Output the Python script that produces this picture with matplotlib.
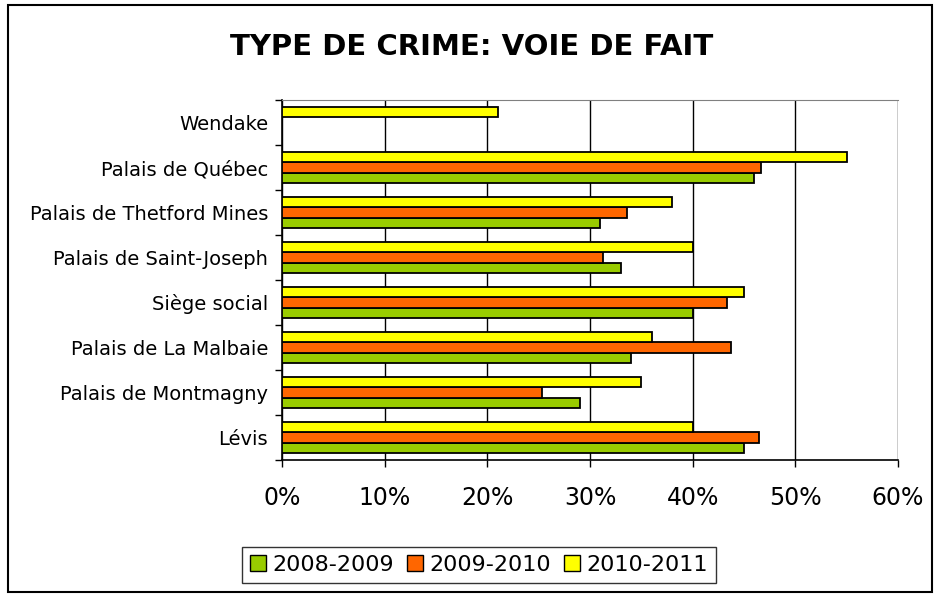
import matplotlib.pyplot as plt
import numpy as np
from matplotlib.patches import Rectangle, Patch
from matplotlib.ticker import FixedLocator, PercentFormatter

# Donnees, de bas en haut
categories = ["Lévis", "Palais de Montmagny", "Palais de La Malbaie", "Siège social",
              "Palais de Saint-Joseph", "Palais de Thetford Mines", "Palais de Québec", "Wendake"]
y2008 = [45, 29, 34, 40, 33, 31, 46, 0]
y2009 = [46.5, 25.3, 43.7, 43.3, 31.3, 33.6, 46.7, 0]
y2010 = [40, 35, 36, 45, 40, 38, 55, 21]
series_labels = ["2008-2009", "2009-2010", "2010-2011"]
colors = ["#99CC00", "#FF6600", "#FFFF00"]


def main():
    fig = plt.figure(figsize=(9.38, 5.97), dpi=100)
    fig.patch.set_facecolor('white')
    fig.patches.append(Rectangle((8 / 938, 5 / 597), 924 / 938, 587 / 597,
                                 transform=fig.transFigure, fill=False,
                                 edgecolor='black', linewidth=1.5))

    ax = fig.add_axes([282 / 938, 1 - 460 / 597, 616 / 938, 360 / 597])
    y = np.arange(len(categories))
    h = 0.23
    for vals, off, c in zip([y2008, y2009, y2010], [-h, 0, h], colors):
        v = np.array(vals, dtype=float)
        mask = v > 0
        ax.barh(y[mask] + off, v[mask], height=h, color=c,
                edgecolor='black', linewidth=1.3, zorder=3)

    ax.set_xlim(0, 60)
    ax.set_ylim(-0.5, len(categories) - 0.5)
    ax.set_xticks(np.arange(0, 61, 10))
    ax.xaxis.set_major_formatter(PercentFormatter(decimals=0))
    ax.set_yticks(y)
    ax.set_yticklabels(categories)
    ax.yaxis.set_minor_locator(FixedLocator(np.arange(-0.5, len(categories), 1)))
    ax.tick_params(axis='y', which='major', length=0, labelsize=14, pad=10)
    ax.tick_params(axis='y', which='minor', length=5, width=1, direction='out')
    ax.tick_params(axis='x', length=5, width=1, direction='out', labelsize=17, pad=14)
    ax.grid(axis='x', color='black', linewidth=1, zorder=0)
    ax.spines['top'].set_color('#808080')
    ax.spines['right'].set_visible(False)
    for s in ['left', 'bottom']:
        ax.spines[s].set_linewidth(1.2)

    fig.text(472 / 938, 1 - 47 / 597, "TYPE DE CRIME: VOIE DE FAIT",
             ha='center', va='center', fontsize=21, fontweight='bold')

    handles = [Patch(facecolor=c, edgecolor='black', label=l)
               for c, l in zip(colors, series_labels)]
    leg = fig.legend(handles=handles, loc='center', ncol=3,
                     bbox_to_anchor=(479 / 938, 1 - 565 / 597),
                     fontsize=16, frameon=True, fancybox=False,
                     handlelength=0.7, handleheight=0.7, handletextpad=0.3,
                     columnspacing=0.6, borderpad=0.35)
    leg.get_frame().set_edgecolor('black')
    leg.get_frame().set_linewidth(1)

    fig.savefig("out.png", dpi=100)


if __name__ == "__main__":
    main()
